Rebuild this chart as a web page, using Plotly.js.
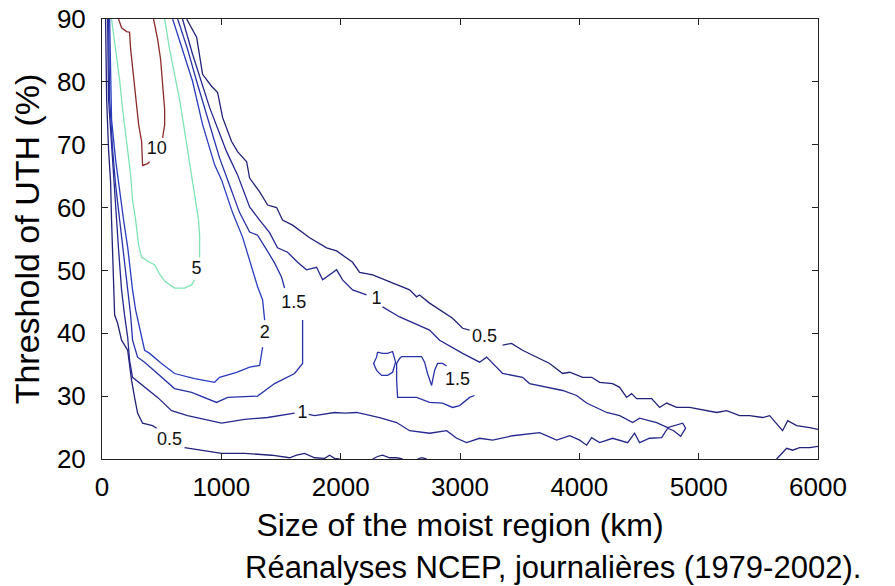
<!DOCTYPE html>
<html><head><meta charset="utf-8">
<script src="https://cdn.plot.ly/plotly-3.0.1.min.js"></script>
<style>html,body{margin:0;padding:0;background:#fff}#chart{width:895px;height:586px}</style>
</head><body><div id="chart"></div>
<script>
// Contour level 10 (two pieces, broken by its label)
const c10x = [139,164,206,231,240,265,282,307,332,340,382,399,null,508,525,525,508,491,466,449,432];
const c10y = [90,88.6,88.0,87.9,85.2,80.4,77.2,73.2,70.5,66.7,67.0,67.3,null,71.1,73.2,75.6,79.6,83.6,86.8,88.7,90];

// Contour level 5
const c5x = [80,114,147,173,206,240,256,282,307,332,399,441,483,525,608,692,751,776,null,818,818,809,784,751,717,684,650,608,566,525];
const c5y = [90,85.2,80.4,75.6,70.8,65.2,61.2,58.0,54.0,52.1,51.3,50.9,49.4,48.3,47.2,47.2,47.7,48.5,null,52.1,55.6,58.0,61.2,65.2,69.2,73.2,77.2,81.2,85.2,90];

// Contour level 2
const c2x = [1346,1321,1237,1128,985,944,776,608,499,399,357,332,298,282,256,231,215,181,147,114,80,72,64,null,
             592,675,759,843,944,1002,1094,1178,1262,1304,1346,1363];
const c2y = [37.8,34.9,34.6,33.8,33.0,32.2,32.8,33.6,35.2,36.8,37.3,39.4,42.1,43.7,46.9,51.7,53.7,58.0,62.8,67.6,74.0,80.4,90,null,
             90,85.2,80.1,73.2,66.8,64.4,59.2,55.3,50.1,47.4,45.3,42.1];

// Contour level 1.5 (main curve, small closed loop, open island)
const c15x = [1681,1681,1614,1446,1304,1053,960,751,608,499,357,298,256,240,215,181,147,114,89,64,55,null,
              634,717,793,877,985,1053,1153,1237,1304,1379,1446,1505,1530,null,
              2309,2351,2393,2435,2460,2435,2393,2343,2301,2276,2301,2309,null,
              3122,3080,2997,2938,2854,2745,2636,2477,2469,2469,2494,2511,2678,2703,2728,2762,2787,2812,2854,2888];
const c15y = [42.1,35.2,33.6,32.0,30.0,29.8,29.0,30.6,31.2,33.0,35.4,36.2,38.9,42.9,46.9,53.3,58.0,63.6,69.2,77.2,90,null,
              90,85.2,80.1,74.8,67.9,64.4,59.2,56.1,55.6,53.3,51.2,48.9,47.2,null,
              37.0,36.8,36.8,37.1,35.4,33.8,33.3,33.3,34.1,35.2,36.2,37.0,null,
              30.1,29.8,28.5,28.2,28.9,29.0,29.8,29.8,32.5,35.2,36.0,36.3,36.3,35.4,33.6,31.7,34.1,35.2,35.2,34.8];

// Contour level 1
const c1x = [1614,1388,1195,1002,717,583,466,357,256,231,215,189,164,139,122,97,80,55,47,null,
             675,759,902,1044,1136,1237,1321,1404,1471,1555,1639,1714,1798,1849,1966,2016,2100,2217,null,
             2351,2494,2745,2829,3022,3164,3223,3357,3524,3583,3860,3977,4061,4229,4338,4447,4505,4648,4740,4866,
             4891,4849,4791,4740,4690,4589,4505,4463,4405,4279,4170,4103,4061,4003,3919,3810,3667,3441,3273,3164,
             3055,2972,2888,2745,2578,2469,2326,2134,2033,1949,1782,1732];
const c1y = [27.3,26.6,26.3,25.7,26.9,27.7,29.8,31.4,33.0,35.7,39.4,42.9,46.9,53.3,58.0,64.1,69.2,77.2,90,null,
             90,84.4,75.9,68.9,65.2,60.1,58.0,56.0,53.6,52.9,51.3,50.1,50.5,48.5,50.1,48.5,46.9,46.1,null,
             44.2,42.6,40.5,38.9,36.8,35.4,36.2,33.6,33.0,32.0,30.9,30.1,28.9,27.4,26.9,25.8,26.5,25.8,25.0,25.7,
             24.9,23.6,24.5,24.9,23.4,23.3,22.6,24.1,22.6,23.3,22.6,23.4,22.2,23.0,23.7,23.0,24.2,23.7,23.0,23.3,
             22.6,23.3,24.5,24.1,24.5,25.8,26.6,27.4,27.3,27.4,26.9,27.1];

// Contour level 0.5
const c05x = [709,793,843,918,969,1011,1086,1136,1212,1237,1321,1388,1463,1513,1597,1740,1882,1966,2100,2159,
              2268,2410,2578,2636,2661,2745,2829,2938,3022,3080,null,
              3357,3432,3524,3642,3751,3860,3919,4028,4103,4170,4279,4338,4396,4438,4480,4606,4673,4732,4815,4924,
              5067,5151,5234,5343,5427,5536,5595,5703,5746,5821,5930,6000,null,
              30,39,55,72,80,89,97,106,131,164,215,248,273,298,340,424,458,null,
              692,1002,1195,1421,1572,1631,1698,1782,1866,1907,1949,1991,null,
              5653,5737,5787,5846,5930,6000,null,
              2268,2309,2351,2410,2469,2519,null,
              2645,2678,2720];
const c05y = [90,87.1,81.2,79.3,78.3,74.3,70.5,68.9,67.3,64.7,62.5,60.4,60.0,58.0,57.2,55.2,53.6,53.1,51.3,49.7,
              49.3,48.2,46.9,45.8,46.1,44.8,43.7,42.4,40.8,40.5,null,
              38.1,38.4,37.3,36.2,35.2,33.6,33.8,33.0,33.0,32.2,32.0,31.4,29.8,30.4,29.6,29.6,28.2,28.9,28.2,28.2,
              27.7,27.4,27.7,26.9,26.9,26.6,26.9,24.5,26.1,25.3,25.0,24.7,null,
              90,77.2,69.2,64.1,58.0,53.6,46.9,42.9,41.6,38.9,37.3,32.5,29.8,27.3,25.7,25.3,24.9,null,
              21.8,20.9,20.9,20.6,20.2,20.6,20.9,20.2,20.1,20.6,20.1,20,null,
              20,21.7,21.4,21.8,21.8,22.0,null,
              20,20.4,20.6,20.2,20.2,20,null,
              20,20.2,20];

// Contour labels
const labelText = ['10','5','2','1.5','1','0.5','1.5','1','0.5'];
const labelX = [458,793,1363,1606,2301,3206,2980,1681,566];
const labelY = [69.2,50.1,40.0,44.8,45.4,39.4,32.5,27.3,23.0];

const xTicks = [0,1000,2000,3000,4000,5000,6000];
const yTicks = [20,30,40,50,60,70,80,90];

const FONT = 'Liberation Sans, Arial, Helvetica, sans-serif';

function line(x, y, color) {
  return {type:'scatter', mode:'lines', x:x, y:y, connectgaps:false,
          line:{color:color, width:1.3}, hoverinfo:'skip', showlegend:false};
}

const traces = [
  line(c05x, c05y, '#22227a'),
  line(c1x, c1y, '#26288f'),
  line(c15x, c15y, '#2832a8'),
  line(c2x, c2y, '#2a3cc0'),
  line(c5x, c5y, '#7fe3b5'),
  line(c10x, c10y, '#8b2b2b'),
  {type:'scatter', mode:'text', x:labelX, y:labelY, text:labelText,
   textfont:{family:FONT, size:18, color:'#111'}, hoverinfo:'skip', showlegend:false, cliponaxis:false}
];

const axisCommon = {
  showgrid:false, zeroline:false, showline:true, linecolor:'#222', linewidth:1,
  mirror:'ticks', ticks:'inside', ticklen:6, tickwidth:1, tickcolor:'#222',
  tickfont:{family:FONT, size:26, color:'#000'}
};

const layout = {
  width:895, height:586,
  margin:{l:102, r:77, t:19, b:127},
  paper_bgcolor:'#fff', plot_bgcolor:'#fff',
  xaxis: Object.assign({}, axisCommon, {
    range:[0,6000], tickvals:xTicks, ticktext:xTicks.map(String), ticklabelstandoff:5,
    title:{text:'Size of the moist region (km)', font:{family:FONT, size:32, color:'#000'}, standoff:12}
  }),
  yaxis: Object.assign({}, axisCommon, {
    range:[20,90], tickvals:yTicks, ticktext:yTicks.map(String), ticklabelstandoff:10,
    title:{text:'Threshold of UTH (%)', font:{family:FONT, size:34, color:'#000'}, standoff:6}
  }),
  annotations:[{
    text:'Réanalyses NCEP, journalières (1979-2002).', xref:'paper', yref:'paper',
    x:0.197, y:-0.246, xanchor:'left', yanchor:'middle', showarrow:false,
    font:{family:FONT, size:31, color:'#000'}
  }]
};

Plotly.newPlot('chart', traces, layout, {staticPlot:true, displayModeBar:false});
</script>
</body></html>
